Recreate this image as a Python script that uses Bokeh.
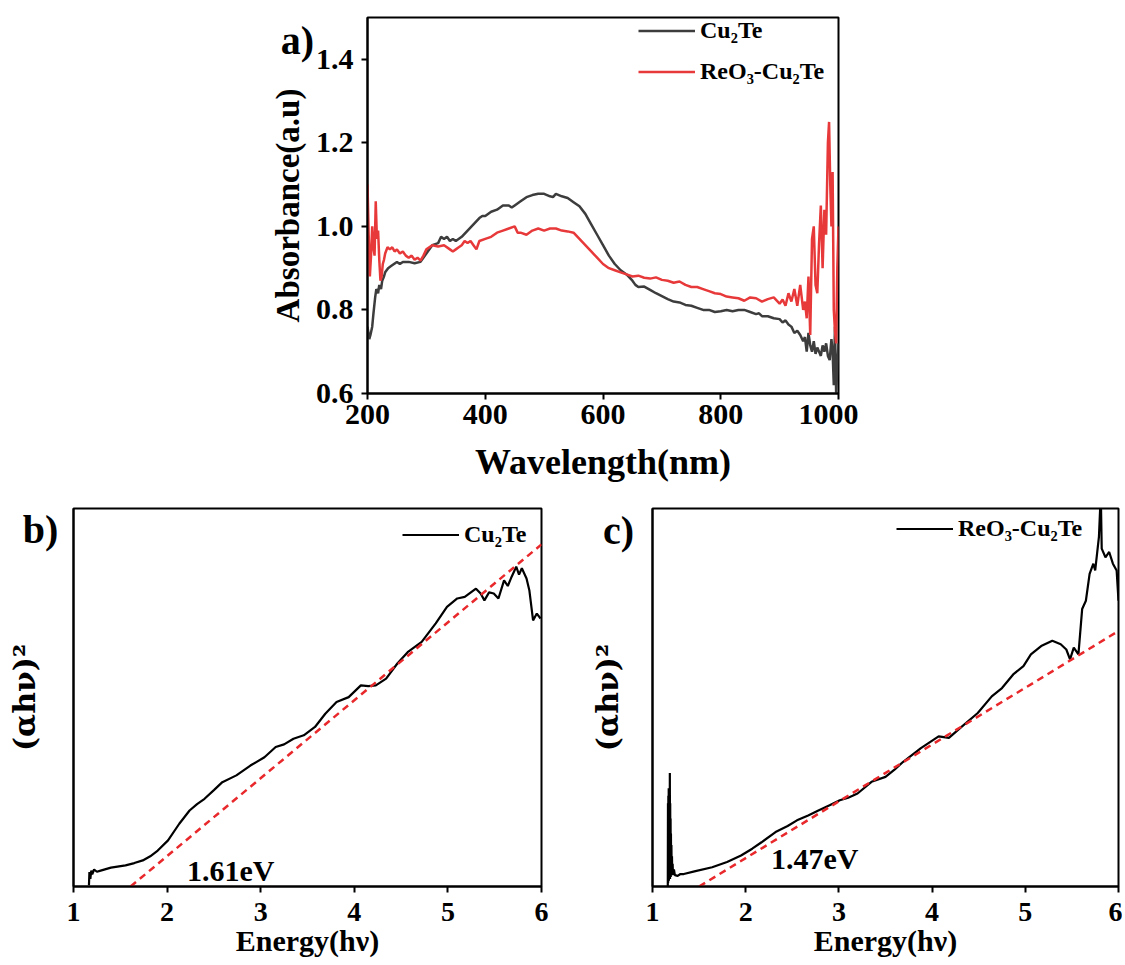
from bokeh.plotting import figure
from bokeh.models import Range1d, FixedTicker, PrintfTickFormatter, Label, GridBox
from bokeh.layouts import column, row
from bokeh.embed import file_html
from bokeh.resources import INLINE

FONT = "Liberation Serif"

# ---------------- Panel a data ----------------
wl_cu2te = [200, 203, 205, 208, 210, 213, 215, 218, 220, 223, 225, 228, 230, 235, 240, 245, 250, 255,
            260, 270, 280, 290, 300, 310, 320, 325, 330, 335, 340, 345, 350, 360, 370, 380, 390, 395,
            400, 410, 420, 430, 440, 445, 450, 460, 470, 480, 490, 500, 510, 515, 520, 530, 540, 550,
            560, 570, 580, 590, 600, 610, 620, 630, 640, 650, 655, 660, 670, 680, 690, 700, 710, 720,
            730, 740, 750, 760, 770, 780, 790, 800, 810, 820, 830, 840, 850, 860, 865, 870, 880, 890,
            900, 905, 910, 915, 920, 925, 930, 935, 940, 943, 946, 949, 952, 955, 958, 961, 964, 967,
            970, 973, 976, 979, 982, 985, 988, 990, 992, 994, 996, 998, 1000]
abs_cu2te = [0.76, 0.73, 0.74, 0.76, 0.79, 0.83, 0.85, 0.84, 0.86, 0.85, 0.87, 0.88, 0.89, 0.90, 0.905,
             0.91, 0.915, 0.91, 0.915, 0.915, 0.912, 0.915, 0.935, 0.955, 0.96, 0.975, 0.97, 0.975,
             0.965, 0.97, 0.965, 0.975, 0.99, 1.005, 1.02, 1.025, 1.025, 1.035, 1.04, 1.05, 1.05, 1.045,
             1.05, 1.06, 1.07, 1.075, 1.078, 1.078, 1.072, 1.07, 1.078, 1.072, 1.068, 1.058, 1.048, 1.03,
             1.005, 0.98, 0.955, 0.93, 0.91, 0.895, 0.885, 0.87, 0.86, 0.855, 0.856, 0.848, 0.84, 0.833,
             0.826, 0.82, 0.818, 0.812, 0.81, 0.805, 0.80, 0.80, 0.795, 0.797, 0.80, 0.797, 0.80, 0.80,
             0.795, 0.79, 0.792, 0.785, 0.785, 0.78, 0.778, 0.77, 0.775, 0.765, 0.76, 0.745, 0.75, 0.74,
             0.725, 0.735, 0.70, 0.745, 0.715, 0.70, 0.725, 0.695, 0.71, 0.70, 0.69, 0.715, 0.70, 0.72,
             0.69, 0.68, 0.73, 0.70, 0.62, 0.76, 0.60, 0.66, 0.72]
wl_reo3 = [200, 202, 204, 206, 208, 210, 212, 214, 216, 218, 220, 222, 224, 226, 228, 230, 234, 238,
           242, 246, 250, 255, 260, 265, 270, 275, 280, 285, 290, 295, 300, 310, 320, 330, 340, 345, 350,
           355, 360, 365, 370, 375, 380, 385, 390, 400, 410, 420, 430, 440, 450, 455, 460, 470, 480, 490,
           500, 510, 520, 530, 540, 550, 560, 570, 580, 590, 600, 610, 620, 630, 640, 650, 660, 670, 680,
           690, 700, 710, 720, 730, 740, 750, 760, 770, 780, 790, 800, 810, 820, 830, 840, 850, 860, 870,
           880, 890, 900, 905, 910, 915, 920, 925, 930, 935, 940, 943, 946, 949, 952, 955, 958, 961, 964,
           967, 970, 973, 976, 979, 982, 984, 986, 988, 990, 992, 994, 996, 998, 1000]
abs_reo3 = [1.10, 0.98, 0.88, 0.93, 1.00, 0.95, 0.93, 1.06, 0.97, 0.99, 0.92, 0.87, 0.88, 0.91, 0.92,
            0.935, 0.95, 0.945, 0.95, 0.94, 0.945, 0.935, 0.94, 0.93, 0.925, 0.93, 0.92, 0.925, 0.918,
            0.93, 0.945, 0.955, 0.952, 0.955, 0.945, 0.94, 0.945, 0.95, 0.955, 0.965, 0.96, 0.965, 0.955,
            0.945, 0.965, 0.97, 0.975, 0.985, 0.99, 0.995, 1.0, 0.985, 0.985, 0.98, 0.99, 0.995, 0.99,
            0.995, 0.995, 0.99, 0.988, 0.985, 0.97, 0.955, 0.94, 0.925, 0.91, 0.9, 0.895, 0.89, 0.885,
            0.88, 0.882, 0.877, 0.875, 0.878, 0.872, 0.87, 0.865, 0.868, 0.86, 0.855, 0.855, 0.85, 0.845,
            0.84, 0.838, 0.832, 0.83, 0.828, 0.822, 0.83, 0.828, 0.82, 0.826, 0.83, 0.815, 0.825, 0.81,
            0.84, 0.82, 0.85, 0.81, 0.86, 0.80, 0.82, 0.78, 0.88, 0.74, 0.97, 1.00, 0.86, 0.84, 0.96,
            1.05, 0.90, 1.04, 0.98, 1.20, 1.25, 1.10, 1.00, 1.13, 0.80, 0.75, 0.72, 0.90, 1.00]
x_ticks_a = [200, 400, 600, 800, 1000]
y_ticks_a = [0.6, 0.8, 1.0, 1.2, 1.4]

# ---------------- Panel b data ----------------
energy_b = [1.165, 1.17, 1.18, 1.19, 1.20, 1.22, 1.25, 1.29, 1.40, 1.556, 1.65, 1.74, 1.82, 1.90, 2.01,
            2.13, 2.24, 2.32, 2.40, 2.50, 2.59, 2.74, 2.89, 3.04, 3.16, 3.25, 3.35, 3.46, 3.58, 3.69,
            3.81, 3.94, 4.07, 4.15, 4.23, 4.34, 4.46, 4.57, 4.72, 4.87, 4.99, 5.10, 5.18, 5.30, 5.35,
            5.39, 5.44, 5.49, 5.54, 5.60, 5.64, 5.68, 5.73, 5.76, 5.79, 5.84, 5.87, 5.91, 5.95, 5.99]
tauc_b = [0.3, 3.8, 2.0, 4.2, 3.2, 4.5, 3.9, 4.2, 5.0, 5.6, 6.2, 6.9, 8.0, 9.5, 12.2, 16.6, 20.1, 21.8,
          23.2, 25.5, 27.6, 29.4, 32.0, 34.2, 36.9, 37.6, 39.1, 40.0, 42.2, 45.7, 48.8, 50.1, 53.2, 53.0,
          53.2, 55.0, 59.0, 62.0, 64.7, 69.6, 74.0, 76.2, 76.6, 78.8, 77.5, 75.7, 77.8, 77.5, 76.2, 81.0,
          79.5, 81.9, 84.6, 82.5, 84.2, 81.5, 78.4, 70.4, 72.2, 70.9]
fit_b_x = [1.61, 6.0]
fit_b_y = [0.0, 90.5]

# ---------------- Panel c data ----------------
energy_c = [1.164, 1.166, 1.168, 1.170, 1.172, 1.174, 1.176, 1.178, 1.180, 1.182, 1.184, 1.186, 1.188,
            1.190, 1.192, 1.194, 1.196, 1.198, 1.200, 1.203, 1.206, 1.209, 1.212, 1.216, 1.22, 1.23,
            1.24, 1.27, 1.30, 1.336, 1.45, 1.64, 1.80, 1.95, 2.07, 2.17, 2.32, 2.45, 2.55, 2.67, 2.78,
            2.90, 3.01, 3.10, 3.20, 3.35, 3.50, 3.60, 3.69, 3.88, 4.07, 4.18, 4.30, 4.49, 4.64, 4.75,
            4.87, 4.98, 5.06, 5.17, 5.29, 5.38, 5.44, 5.48, 5.52, 5.57, 5.61, 5.65, 5.69, 5.73, 5.75,
            5.79, 5.81, 5.82, 5.86, 5.90, 5.94, 5.98, 6.0]
tauc_c = [0.0, 22.0, 1.0, 24.0, 2.0, 26.0, 1.5, 21.0, 2.0, 25.0, 3.0, 30.0, 2.0, 22.0, 3.0, 18.0, 2.5,
          14.0, 3.0, 11.0, 3.0, 8.0, 3.5, 6.0, 3.0, 4.5, 3.0, 2.8, 3.3, 3.3, 4.0, 5.1, 6.5, 8.2, 10.0,
          11.7, 14.4, 16.0, 17.5, 18.8, 20.1, 21.5, 22.8, 23.5, 24.6, 27.7, 29.0, 31.0, 33.0, 36.6,
          39.7, 39.3, 41.9, 45.9, 50.3, 52.5, 56.1, 58.3, 61.4, 63.6, 65.0, 64.1, 62.7, 60.1, 63.2,
          61.4, 73.4, 75.6, 82.7, 85.4, 83.6, 92.5, 104.0, 89.4, 87.1, 88.5, 85.4, 83.6, 75.6]
fit_c_x = [1.5, 6.0]
fit_c_y = [0.0, 67.6]
e_ticks = [1, 2, 3, 4, 5, 6]


def style(p, xticks, yticks, tick_size, label_size):
    p.grid.visible = False
    p.outline_line_color = "black"
    p.outline_line_width = 2
    p.outline_line_alpha = 1
    p.background_fill_color = "white"
    p.border_fill_color = "white"
    for ax in (p.xaxis[0], p.yaxis[0]):
        ax.axis_line_width = 2
        ax.axis_line_color = "black"
        ax.major_tick_line_width = 2
        ax.major_tick_line_color = "black"
        ax.major_tick_out = 6
        ax.major_tick_in = 0
        ax.minor_tick_line_color = None
        ax.minor_tick_out = 0
        ax.major_label_text_font = FONT
        ax.major_label_text_font_style = "bold"
        ax.major_label_text_font_size = tick_size
        ax.major_label_text_color = "black"
        ax.axis_label_text_font = FONT
        ax.axis_label_text_font_style = "bold"
        ax.axis_label_text_font_size = label_size
        ax.axis_label_text_color = "black"
    p.xaxis[0].ticker = FixedTicker(ticks=xticks)
    p.yaxis[0].ticker = FixedTicker(ticks=yticks)


def style_legend(p, loc, size="24px"):
    lg = p.legend[0]
    lg.location = loc
    lg.border_line_color = None
    lg.background_fill_alpha = 0
    lg.label_text_font = FONT
    lg.label_text_font_style = "bold"
    lg.label_text_font_size = size
    lg.label_text_color = "black"
    lg.glyph_width = 57
    lg.glyph_height = 25
    lg.label_height = 25
    lg.label_standoff = 5
    lg.spacing = 14
    lg.padding = 0
    lg.margin = 0


# ---------------- Panel a ----------------
pa = figure(frame_width=471, frame_height=376, min_border_left=367, min_border_top=17,
            min_border_bottom=92, min_border_right=20,
            x_range=Range1d(200, 1000), y_range=Range1d(0.6, 1.5),
            output_backend="svg", toolbar_location=None,
            x_axis_label="Wavelength(nm)", y_axis_label="Absorbance(a.u)")
pa.line(wl_cu2te, abs_cu2te, line_color="#3d3d3d", line_width=2.5, legend_label="Cu\u2082Te")
pa.line(wl_reo3, abs_reo3, line_color="#e8393a", line_width=2.5, legend_label="ReO\u2083-Cu\u2082Te")
style(pa, x_ticks_a, y_ticks_a, "30px", "36px")
pa.yaxis[0].axis_label_text_font_size = "33px"
pa.yaxis[0].formatter = PrintfTickFormatter(format="%.1f")
pa.yaxis[0].major_label_standoff = 8
pa.yaxis[0].axis_label_standoff = 7
pa.xaxis[0].major_label_standoff = 5
pa.xaxis[0].axis_label_standoff = 15
style_legend(pa, (271, 308))

# ---------------- Panel b ----------------
pb = figure(frame_width=468, frame_height=378, min_border_left=73, min_border_top=23,
            min_border_bottom=72, min_border_right=15,
            x_range=Range1d(1, 6), y_range=Range1d(0, 100),
            output_backend="svg", toolbar_location=None,
            x_axis_label="Energy(h\u03bd)", y_axis_label="(\u03b1h\u03bd)\u00b2")
pb.line(energy_b, tauc_b, line_color="black", line_width=2.2, legend_label="Cu\u2082Te")
pb.line(fit_b_x, fit_b_y, line_color="#e8282b", line_width=2.5, line_dash="7 5")
style(pb, e_ticks, [], "28px", "30px")
pb.yaxis[0].major_tick_out = 0
pb.yaxis[0].axis_label_text_font = "DejaVu Serif"
pb.yaxis[0].axis_label_standoff = 32
pb.xaxis[0].major_label_standoff = 10
pb.xaxis[0].axis_label_standoff = 0
style_legend(pb, (329, 338))
pb.add_layout(Label(x=2.68, y=4.2, text="1.61eV", text_font=FONT, text_font_style="bold",
                    text_font_size="30px", text_align="center", text_baseline="middle",
                    text_color="black"))

# ---------------- Panel c ----------------
pc = figure(frame_width=466, frame_height=378, min_border_left=96, min_border_top=23,
            min_border_bottom=72, min_border_right=4,
            x_range=Range1d(1, 6), y_range=Range1d(0, 100),
            output_backend="svg", toolbar_location=None,
            x_axis_label="Energy(h\u03bd)", y_axis_label="(\u03b1h\u03bd)\u00b2")
pc.line(energy_c, tauc_c, line_color="black", line_width=2.2, legend_label="ReO\u2083-Cu\u2082Te")
pc.line(fit_c_x, fit_c_y, line_color="#e8282b", line_width=2.5, line_dash="7 5")
style(pc, e_ticks, [], "28px", "30px")
pc.yaxis[0].major_tick_out = 0
pc.yaxis[0].axis_label_text_font = "DejaVu Serif"
pc.yaxis[0].axis_label_standoff = 28
pc.xaxis[0].major_label_standoff = 10
pc.xaxis[0].axis_label_standoff = 0
style_legend(pc, (244, 344))
pc.add_layout(Label(x=2.74, y=7.4, text="1.47eV", text_font=FONT, text_font_style="bold",
                    text_font_size="30px", text_align="center", text_baseline="middle",
                    text_color="black"))

main = column(pa, row(pb, pc))

# ---------------- Overlay with panel letters (page pixel coordinates) ----------------
OW, OH = 1122, 958
ov = figure(width=OW, height=OH, min_border=0, x_range=Range1d(0, OW), y_range=Range1d(OH, 0),
            x_axis_location=None, y_axis_location=None, output_backend="svg",
            toolbar_location=None)
ov.grid.visible = False
ov.outline_line_color = None
ov.background_fill_color = None
ov.border_fill_color = None
panel_letters = ["a)", "b)", "c)"]
letter_x = [297, 40, 618]
letter_y = [40, 529, 530]
for t, lx, ly in zip(panel_letters, letter_x, letter_y):
    ov.add_layout(Label(x=lx, y=ly, text=t, text_font=FONT, text_font_style="bold",
                        text_font_size="40px", text_align="center", text_baseline="middle",
                        text_color="black"))

grid = GridBox(children=[(main, 0, 0), (ov, 0, 0)])
open("out.html", "w").write(file_html(grid, INLINE))
